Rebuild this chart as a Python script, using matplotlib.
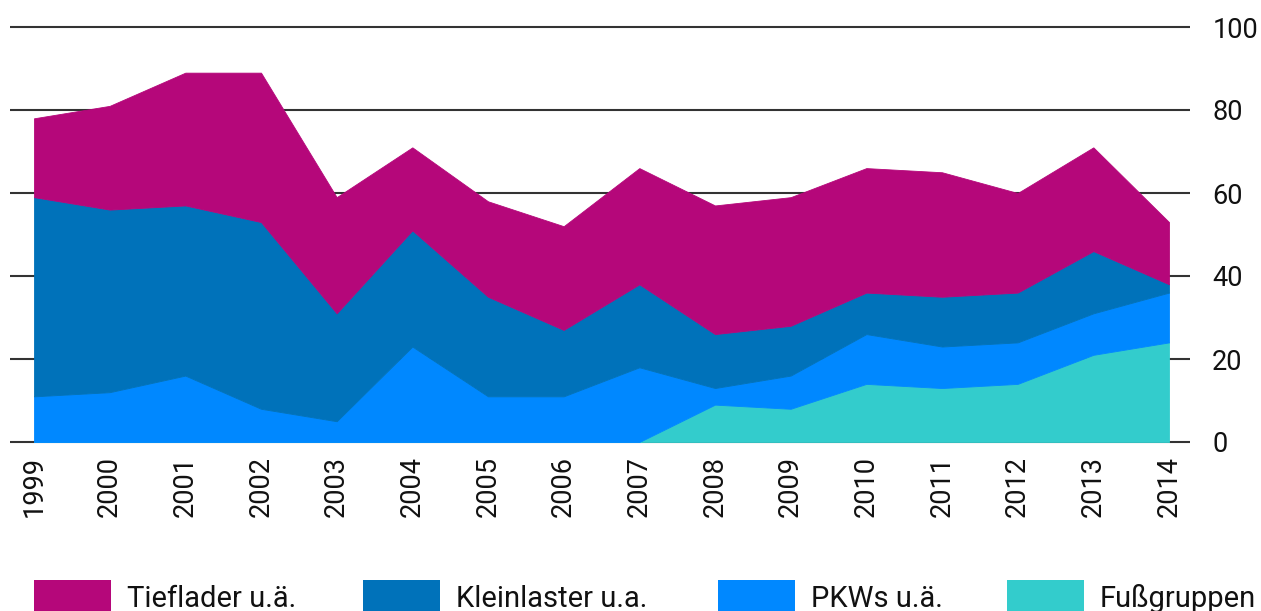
import matplotlib.pyplot as plt
from matplotlib.patches import Rectangle
import numpy as np

plt.rcParams['font.family'] = ['Roboto', 'DejaVu Sans']
FS = 19.5
FS_LEG = 21

years = list(range(1999, 2015))
# einzelne Anteile (gestapelt)
fussgruppen = [0, 0, 0, 0, 0, 0, 0, 0, 0, 9, 8, 14, 13, 14, 21, 24]
pkws        = [11, 12, 16, 8, 5, 23, 11, 11, 18, 4, 8, 12, 10, 10, 10, 12]
kleinlaster = [48, 44, 41, 45, 26, 28, 24, 16, 20, 13, 12, 10, 12, 12, 15, 2]
tieflader   = [19, 25, 32, 36, 28, 20, 23, 25, 28, 31, 31, 30, 30, 24, 25, 15]

labels = ["Tieflader u.ä.", "Kleinlaster u.a.", "PKWs u.ä.", "Fußgruppen"]
colors = ["#B5077A", "#0072BA", "#0088FF", "#33CCCC"]
yticks = [0, 20, 40, 60, 80, 100]

W, H = 1261, 611
fig = plt.figure(figsize=(W / 100, H / 100), dpi=100)

# axes: x 10..1190 px, y so that 0 -> 442 px and 100 -> 27 px
ppu_x = (1169 - 34) / 15.0
x0 = 1999 - (34 - 10) / ppu_x
x1 = 2014 + (1190 - 1169) / ppu_x
ppu_y = (442 - 27) / 100.0
y0, y1 = -1.0, 101.0
bot_px = 442 + 1 * ppu_y
top_px = 27 - 1 * ppu_y
ax = fig.add_axes([10 / W, (H - bot_px) / H, 1180 / W, (bot_px - top_px) / H])

for y in yticks:
    ax.axhline(y, color="#333333", lw=1.5, zorder=0)

stack = ax.stackplot(years, fussgruppen, pkws, kleinlaster, tieflader,
                     colors=colors[::-1], zorder=2)
for poly, c in zip(stack, colors[::-1]):
    poly.set_edgecolor(c)
    poly.set_linewidth(0.6)

ax.set_xlim(x0, x1)
ax.set_ylim(y0, y1)
for s in ax.spines.values():
    s.set_visible(False)

ax.yaxis.tick_right()
ax.set_yticks(yticks)
ax.set_yticklabels([str(v) for v in yticks])
ax.tick_params(axis="y", length=0, pad=16, labelsize=FS, labelcolor="#111111")
ax.set_xticks(years)
ax.set_xticklabels([str(y) for y in years], rotation=90)
ax.tick_params(axis="x", length=0, pad=7, labelsize=FS, labelcolor="#111111")

# Legende unten
patch_x = [34, 363, 718, 1007]
for px, lab, c in zip(patch_x, labels, colors):
    fig.patches.append(Rectangle((px / W, 0), 77 / W, 31 / H, transform=fig.transFigure,
                                 facecolor=c, edgecolor="none"))
    fig.text((px + 93) / W, 4 / H, lab, fontsize=FS_LEG, color="#111111",
             ha="left", va="baseline")

fig.savefig("out.png", dpi=100)
